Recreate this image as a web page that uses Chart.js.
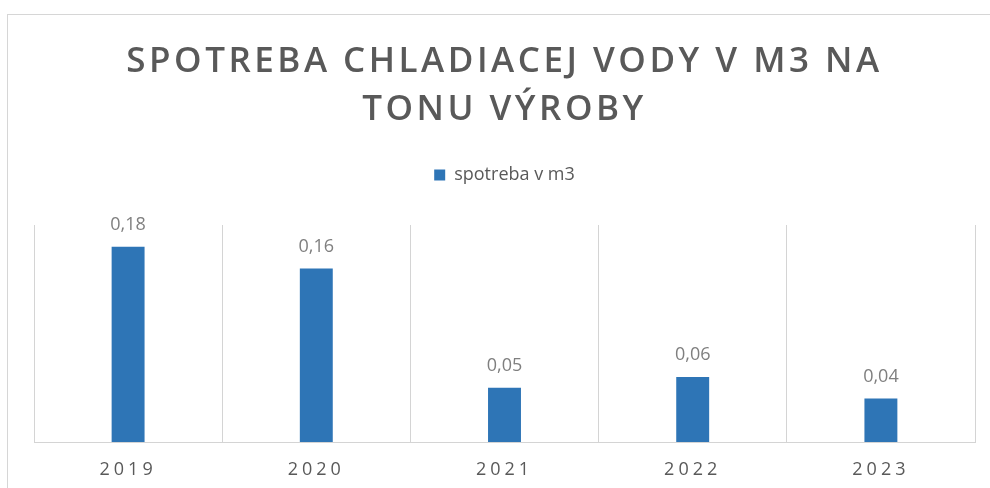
<!DOCTYPE html>
<html><head><meta charset="utf-8">
<script src="https://cdn.jsdelivr.net/npm/chart.js@4.4.1/dist/chart.umd.min.js"></script>
<style>
html,body{margin:0;padding:0;background:#fff;}
#wrap{position:relative;width:990px;height:488px;overflow:hidden;background:#fff;}
#frame{position:absolute;left:7px;top:14px;width:1000px;height:500px;border:1px solid #d6d6d6;pointer-events:none;}
canvas{position:absolute;left:0;top:0;}
</style></head><body>
<div id="wrap"><canvas id="c" width="990" height="488"></canvas><div id="frame"></div></div>
<script>
const categories = ['2019', '2020', '2021', '2022', '2023'];
const seriesName = 'spotreba v m3';
const values = [0.18, 0.16, 0.05, 0.06, 0.04];
const titleLines = ['SPOTREBA CHLADIACEJ VODY V M3 NA', 'TONU VÝROBY'];
const yMin = 0;
const yMax = 0.2;

const spacingPlugin = {
  id: 'spacing',
  beforeLayout(chart) {
    const lg = chart.legend;
    if (lg && !lg._patched) {
      const o = lg.fit;
      lg.fit = function (...a) { o.apply(this, a); this.height += 31; };
      lg._patched = true;
    }
  },
  beforeDraw(chart) {
    const tb = chart.titleBlock;
    if (tb && !tb._spaced) {
      const o = tb.draw;
      tb.draw = function (...a) { const c = this.ctx; c.save(); c.letterSpacing = '3.5px'; o.apply(this, a); c.restore(); };
      tb._spaced = true;
    }
    const xs = chart.scales.x;
    if (xs && !xs._spaced) {
      const o = xs.drawLabels;
      xs.drawLabels = function (...a) { const c = this.ctx; c.save(); c.letterSpacing = '4px'; o.apply(this, a); c.restore(); };
      xs._spaced = true;
    }
  }
};

const valueLabels = {
  id: 'valueLabels',
  afterDatasetsDraw(chart) {
    const ctx = chart.ctx;
    const meta = chart.getDatasetMeta(0);
    ctx.save();
    ctx.font = '18px "Open Sans"';
    ctx.fillStyle = '#7f7f7f';
    ctx.textAlign = 'center';
    ctx.textBaseline = 'middle';
    meta.data.forEach((bar, i) => {
      ctx.fillText(values[i].toFixed(2).replace('.', ','), bar.x, bar.y - 22);
    });
    ctx.restore();
  }
};

new Chart(document.getElementById('c'), {
  type: 'bar',
  data: {
    labels: categories,
    datasets: [{
      label: seriesName,
      data: values,
      backgroundColor: '#2e75b6',
      borderWidth: 0,
      barPercentage: 0.175,
      categoryPercentage: 1
    }]
  },
  options: {
    responsive: false,
    animation: false,
    layout: { padding: { left: 34, right: 15, top: 10, bottom: 0 } },
    plugins: {
      title: {
        display: true,
        text: titleLines,
        color: '#595959',
        font: { family: '"Open Sans"', size: 35, weight: '600', lineHeight: 48 / 35 },
        padding: { top: 28, bottom: 22 }
      },
      legend: {
        display: true,
        position: 'top',
        labels: {
          color: '#595959',
          font: { family: '"Open Sans"', size: 18 },
          boxWidth: 11,
          boxHeight: 11,
          padding: 10
        }
      },
      tooltip: { enabled: false }
    },
    scales: {
      x: {
        grid: { offset: true, color: '#d4d4d4', drawTicks: false },
        border: { display: true, color: '#d4d4d4' },
        ticks: { color: '#595959', font: { family: '"Open Sans"', size: 18 }, padding: 17 },
        afterFit(scale) { scale.height = 46; }
      },
      y: { display: false, min: yMin, max: yMax }
    }
  },
  plugins: [spacingPlugin, valueLabels]
});
</script>
</body></html>
